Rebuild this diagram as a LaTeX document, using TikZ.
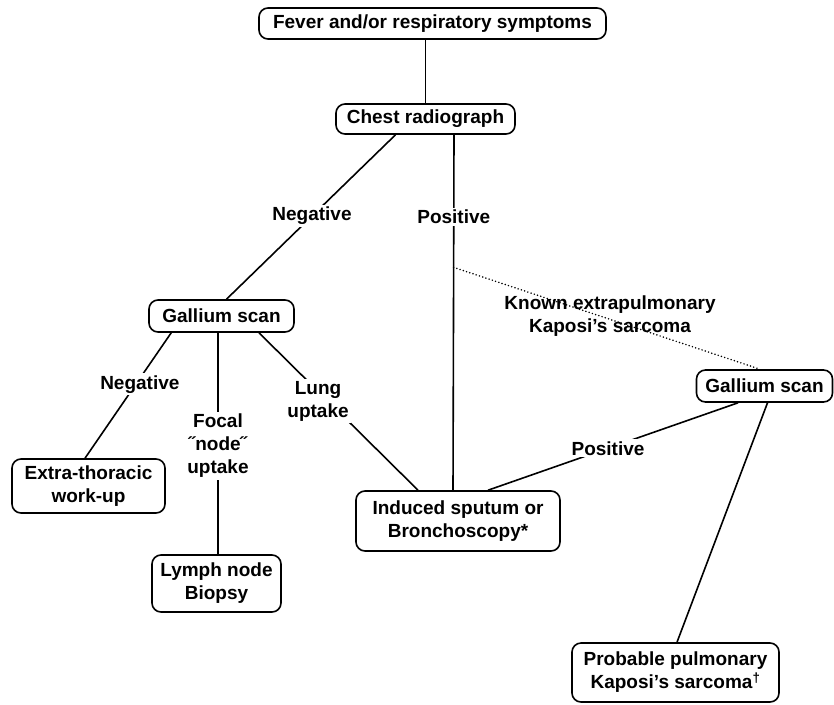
\documentclass[tikz,border=0pt]{standalone}
\usepackage{fontspec}
\setmainfont{Liberation Sans}
\usetikzlibrary{calc}
\begin{document}
\begin{tikzpicture}[x=1pt,y=-1pt,
  every node/.style={font=\bfseries\fontsize{19}{23}\selectfont, align=center},
  box/.style={draw, line width=1.6pt, rounded corners=9pt, inner sep=0pt},
  lab/.style={fill=white, inner sep=2pt},
  conn/.style={line width=1.6pt},
  dotline/.style={line width=1.7pt, dash pattern=on 0pt off 3.4pt, line cap=round}]
\useasboundingbox (0,0) rectangle (834,704);
% boxes
\node[box, minimum width=347pt, minimum height=31pt] (fever) at (432.5,23.5) {Fever and/or respiratory symptoms};
\node[box, minimum width=179pt, minimum height=30pt] (chest) at (425.5,119) {Chest radiograph};
\node[box, minimum width=145pt, minimum height=32pt] (gl) at (221.5,316) {Gallium scan};
\node[box, minimum width=153pt, minimum height=54pt] (extra) at (88.5,486) {Extra-thoracic\\work-up};
\node[box, minimum width=129pt, minimum height=57pt] (lymph) at (216.5,583.5) {Lymph node\\Biopsy};
\node[box, minimum width=204pt, minimum height=60pt] (ind) at (458,521) {Induced sputum or\\Bronchoscopy*};
\node[box, minimum width=136pt, minimum height=32pt] (gr) at (764.5,386) {Gallium scan};
\node[box, minimum width=207pt, minimum height=59pt] (prob) at (675.5,672.5) {Probable pulmonary\\Kaposi's sarcoma\textsuperscript{\textdagger}};
% connectors
\draw[conn] (chest.north |- fever.south) -- (chest.north);
\draw[conn] ($(chest.south)+(-30,0)$) -- node[lab,pos=0.494]{Negative} ($(gl.north)+(5,0)$);
\draw[conn] ($(chest.south)+(28.5,0)$) -- node[lab,pos=0.23]{Positive} coordinate[pos=0.373] (k) ($(ind.north)+(-5,0)$);
\draw[dotline] (k) -- ($(gr.north)+(-4.5,0)$);
\node (known) at (610,316) {Known extrapulmonary\\Kaposi's sarcoma};
\draw[conn] ($(gl.south west)+(23,0)$) -- node[lab,pos=0.41,xshift=4pt]{Negative} ($(extra.north)+(-3.5,0)$);
\draw[conn] ($(gl.south)+(-3.5,0)$) -- node[lab,pos=0.51]{Focal\\^^^^02ddnode^^^^02dd\\uptake} ($(lymph.north)+(1.5,0)$);
\draw[conn] ($(gl.south)+(37.5,0)$) -- node[lab,pos=0.434,xshift=-10pt]{Lung\\uptake} ($(ind.north)+(-40,0)$);
\draw[conn] ($(ind.north)+(30,0)$) -- node[lab,pos=0.48]{Positive} ($(gr.south)+(-26.5,0)$);
\draw[conn] ($(gr.south)+(3,0)$) -- ($(prob.north)+(1.5,0)$);
\end{tikzpicture}
\end{document}
